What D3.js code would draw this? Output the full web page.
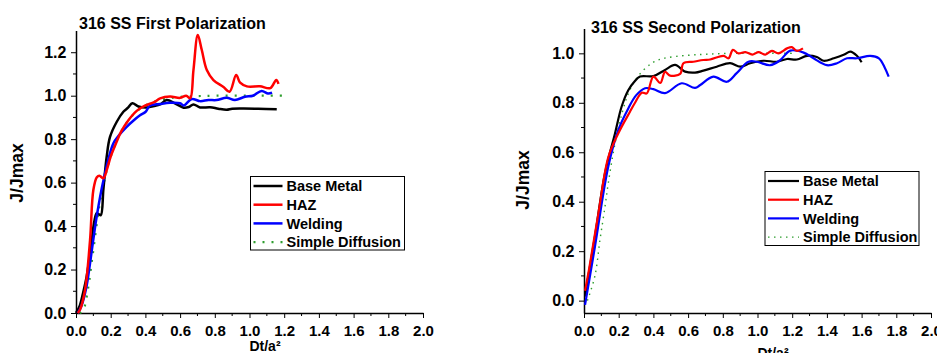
<!DOCTYPE html>
<html>
<head>
<meta charset="utf-8">
<script src="https://cdnjs.cloudflare.com/ajax/libs/d3/7.8.5/d3.min.js"></script>
<style>
  body { margin: 0; background: #fff; }
  svg { display: block; font-family: "Liberation Sans", Arial, sans-serif; }
  .tick-label { font-weight: bold; }
</style>
</head>
<body>
<div id="chart"></div>
<script>
// series names and colours
const seriesNames = ['Base Metal', 'HAZ', 'Welding', 'Simple Diffusion'];
const seriesColors = ['#000000', '#ff0000', '#0000ff', '#2e9e2e'];

const xTickValues = [0, 0.2, 0.4, 0.6, 0.8, 1.0, 1.2, 1.4, 1.6, 1.8, 2.0];

// First polarization, [Dt/a², J/Jmax]
const firstBase = [[0,0],[0.02,0.03],[0.04,0.09],[0.062,0.17],[0.09,0.33],[0.105,0.42],[0.119,0.46],[0.13,0.455],[0.143,0.45],[0.158,0.57],[0.177,0.72],[0.196,0.81],[0.235,0.88],[0.273,0.926],[0.3,0.945],[0.325,0.965],[0.36,0.95],[0.408,0.946],[0.45,0.952],[0.485,0.96],[0.523,0.98],[0.57,0.965],[0.62,0.945],[0.65,0.948],[0.677,0.96],[0.715,0.946],[0.773,0.947],[0.82,0.94],[0.868,0.935],[0.9,0.94],[0.965,0.941],[1.05,0.94],[1.157,0.938]];
const firstHaz = [[0.01,0],[0.023,0.015],[0.052,0.106],[0.081,0.336],[0.1,0.566],[0.12,0.625],[0.135,0.632],[0.158,0.62],[0.178,0.66],[0.2,0.72],[0.23,0.78],[0.26,0.835],[0.3,0.885],[0.35,0.93],[0.4,0.955],[0.45,0.97],[0.485,0.988],[0.542,0.996],[0.6,0.99],[0.635,1.0],[0.658,0.988],[0.677,1.118],[0.702,1.279],[0.725,1.21],[0.754,1.118],[0.792,1.072],[0.85,1.04],[0.885,1.018],[0.923,1.095],[0.946,1.06],[0.985,1.043],[1.06,1.043],[1.12,1.035],[1.154,1.072],[1.167,1.054]];
const firstWeld = [[0.01,0],[0.03,0.03],[0.06,0.12],[0.081,0.23],[0.119,0.443],[0.158,0.61],[0.215,0.78],[0.25,0.82],[0.292,0.857],[0.33,0.885],[0.369,0.91],[0.4,0.925],[0.427,0.955],[0.485,0.962],[0.542,0.967],[0.6,0.965],[0.62,0.955],[0.667,0.985],[0.715,0.975],[0.763,0.98],[0.81,0.98],[0.868,0.99],[0.916,0.98],[0.974,0.995],[1.02,1.0],[1.07,1.022],[1.107,1.01],[1.13,1.014]];
const firstDiff = [[0.02,0],[0.04,0.01],[0.071,0.12],[0.09,0.23],[0.11,0.35],[0.13,0.47],[0.15,0.56],[0.175,0.65],[0.2,0.72],[0.25,0.82],[0.3,0.885],[0.35,0.928],[0.4,0.955],[0.45,0.972],[0.5,0.983],[0.55,0.99],[0.6,0.995],[0.7,0.998],[0.8,1.0],[1.0,1.0],[1.2,1.0]];

// Second polarization
const secondBase = [[0.006,0.016],[0.03,0.12],[0.063,0.26],[0.121,0.515],[0.179,0.677],[0.217,0.785],[0.256,0.852],[0.29,0.885],[0.323,0.906],[0.4,0.908],[0.467,0.933],[0.525,0.953],[0.583,0.926],[0.64,0.922],[0.688,0.93],[0.765,0.946],[0.842,0.96],[0.9,0.946],[0.958,0.96],[1.035,0.97],[1.112,0.966],[1.17,0.977],[1.227,0.975],[1.285,0.99],[1.342,0.985],[1.381,0.97],[1.44,0.98],[1.5,0.995],[1.535,1.007],[1.573,0.99],[1.6,0.964]];
const secondHaz = [[0.006,0.04],[0.03,0.13],[0.083,0.353],[0.14,0.58],[0.198,0.677],[0.265,0.764],[0.294,0.8],[0.333,0.841],[0.362,0.838],[0.4,0.906],[0.44,0.88],[0.467,0.925],[0.496,0.91],[0.554,0.917],[0.573,0.96],[0.63,0.966],[0.688,0.973],[0.727,0.975],[0.804,0.99],[0.833,0.98],[0.858,1.014],[0.89,1.0],[0.93,1.005],[0.97,0.995],[1.006,1.005],[1.045,0.995],[1.083,1.01],[1.121,1.0],[1.17,1.02],[1.198,1.025],[1.227,1.01],[1.262,1.02]];
const secondWeld = [[0.006,-0.017],[0.063,0.218],[0.14,0.542],[0.198,0.69],[0.256,0.778],[0.3,0.83],[0.352,0.859],[0.4,0.855],[0.467,0.839],[0.563,0.879],[0.64,0.86],[0.67,0.872],[0.746,0.906],[0.823,0.885],[0.88,0.92],[0.948,0.966],[0.996,0.966],[1.073,0.952],[1.13,0.972],[1.189,1.011],[1.266,1.003],[1.323,0.98],[1.4,0.952],[1.458,0.96],[1.516,0.98],[1.573,0.98],[1.65,0.99],[1.7,0.98],[1.735,0.94],[1.756,0.906]];
const secondDiff = [[0.02,0],[0.063,0.1],[0.092,0.245],[0.121,0.38],[0.14,0.475],[0.18,0.64],[0.22,0.76],[0.26,0.845],[0.31,0.906],[0.39,0.96],[0.45,0.978],[0.525,0.987],[0.64,0.994],[0.8,0.999],[1.0,1.0],[1.21,1.0]];

const width = 937, height = 353;
const svg = d3.select('#chart').append('svg')
    .attr('width', width)
    .attr('height', height);

function drawPanel(opts) {
    const x = d3.scaleLinear().domain([0, 2]).range(opts.xRange);
    const y = d3.scaleLinear().domain(opts.yDomain).range(opts.yRange);
    const g = svg.append('g');

    // minor ticks (half steps) drawn separately so they stay short
    const xMinor = d3.range(0.1, 2, 0.2);
    const yMinor = d3.range(0.1, opts.yDomain[1], 0.2);

    const xAxis = g.append('g')
        .attr('transform', `translate(0,${opts.yRange[0]})`)
        .call(d3.axisBottom(x).tickValues(xTickValues).tickFormat(d3.format('.1f')).tickSize(5).tickSizeOuter(0));
    xAxis.selectAll('text').attr('class', 'tick-label').attr('font-size', 15).attr('dy', '0.97em');
    g.append('g')
        .attr('transform', `translate(0,${opts.yRange[0]})`)
        .selectAll('line').data(xMinor).enter().append('line')
        .attr('x1', d => x(d)).attr('x2', d => x(d))
        .attr('y1', 0).attr('y2', 3)
        .attr('stroke', '#000');

    const yAxis = g.append('g')
        .attr('transform', `translate(${opts.xRange[0]},0)`)
        .call(d3.axisLeft(y).tickValues(opts.yTicks).tickFormat(d3.format('.1f')).tickSize(5).tickSizeOuter(0));
    yAxis.selectAll('text').attr('class', 'tick-label').attr('font-size', 16).attr('dx', '-0.1em');
    g.append('g')
        .attr('transform', `translate(${opts.xRange[0]},0)`)
        .selectAll('line').data(yMinor).enter().append('line')
        .attr('y1', d => y(d)).attr('y2', d => y(d))
        .attr('x1', 0).attr('x2', -3)
        .attr('stroke', '#000');

    g.selectAll('.domain').attr('stroke-width', 1.5);

    const line = d3.line()
        .x(d => x(d[0]))
        .y(d => y(d[1]))
        .curve(d3.curveCatmullRom.alpha(0.5));

    // diffusion curve first so the measured lines cover it
    g.append('path')
        .datum(opts.series[3])
        .attr('fill', 'none')
        .attr('stroke', seriesColors[3])
        .attr('stroke-width', opts.dotWidth)
        .attr('stroke-dasharray', opts.dotDash)
        .attr('d', line);

    [0, 2, 1].forEach(i => {
        g.append('path')
            .datum(opts.series[i])
            .attr('fill', 'none')
            .attr('stroke', seriesColors[i])
            .attr('stroke-width', opts.lineWidth)
            .attr('stroke-linejoin', 'round')
            .attr('d', line);
    });

    // title and axis labels
    g.append('text')
        .attr('x', opts.title[1]).attr('y', opts.title[2])
        .attr('font-size', 16).attr('font-weight', 'bold')
        .text(opts.title[0]);
    g.append('text')
        .attr('x', opts.xLabel[0]).attr('y', opts.xLabel[1])
        .attr('text-anchor', 'middle')
        .attr('font-size', 14).attr('font-weight', 'bold')
        .text('Dt/a²');
    g.append('text')
        .attr('transform', `translate(${opts.yLabel[0]},${opts.yLabel[1]}) rotate(-90)`)
        .attr('text-anchor', 'middle')
        .attr('dy', '0.35em')
        .attr('font-size', 17.5).attr('font-weight', 'bold')
        .text('J/Jmax');

    // legend
    const lg = opts.legend;
    const leg = g.append('g').attr('transform', `translate(${lg.x},${lg.y})`);
    leg.append('rect')
        .attr('width', lg.w).attr('height', lg.h)
        .attr('fill', '#fff').attr('stroke', '#000').attr('stroke-width', 1);
    seriesNames.forEach((name, i) => {
        const cy = lg.firstRow + i * lg.rowStep;
        leg.append('line')
            .attr('x1', 3).attr('x2', 3 + lg.sample)
            .attr('y1', cy).attr('y2', cy)
            .attr('stroke', seriesColors[i])
            .attr('stroke-width', i === 3 ? opts.dotWidth : opts.lineWidth)
            .attr('stroke-dasharray', i === 3 ? opts.dotDash : null);
        leg.append('text')
            .attr('x', lg.sample + 7).attr('y', cy)
            .attr('dy', '0.36em')
            .attr('font-size', 14.5).attr('font-weight', 'bold')
            .text(name);
    });
}

drawPanel({
    xRange: [76, 423],
    yDomain: [0, 1.3],
    yRange: [313, 30.5],
    yTicks: [0, 0.2, 0.4, 0.6, 0.8, 1.0, 1.2],
    series: [firstBase, firstHaz, firstWeld, firstDiff],
    lineWidth: 2.5,
    dotWidth: 2.2,
    dotDash: '2,7',
    title: ['316 SS First Polarization', 79, 29],
    xLabel: [265, 351],
    yLabel: [17, 173],
    legend: { x: 250.5, y: 176.5, w: 154, h: 73.5, firstRow: 9.5, rowStep: 18.7, sample: 29 }
});

drawPanel({
    xRange: [584, 931],
    yDomain: [-0.05, 1.1],
    yRange: [313, 28.6],
    yTicks: [0, 0.2, 0.4, 0.6, 0.8, 1.0],
    series: [secondBase, secondHaz, secondWeld, secondDiff],
    lineWidth: 2.2,
    dotWidth: 1.4,
    dotDash: '1.5,4.5',
    title: ['316 SS Second Polarization', 591, 32.5],
    xLabel: [773, 358],
    yLabel: [523, 180],
    legend: { x: 765, y: 171.5, w: 154, h: 74, firstRow: 9.5, rowStep: 18.7, sample: 31 }
});
</script>
</body>
</html>
